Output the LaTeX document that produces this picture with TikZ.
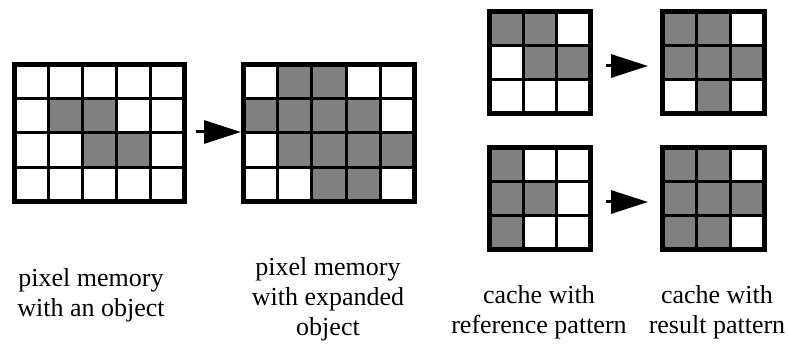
\documentclass[tikz,border=0pt]{standalone}
\usepackage{fontspec}
\setmainfont{Liberation Serif}
\usetikzlibrary{arrows.meta}
\definecolor{cellgray}{RGB}{128,128,128}
\tikzset{
  frame/.style={line width=5pt},
  innerline/.style={line width=3pt},
  gridbox/.style={inner sep=0pt, outer sep=0pt, minimum width=#1},
  arr/.style={line width=3pt, -{Triangle[length=37pt,width=23pt]}},
  lbl/.style={font=\fontsize{26}{30}\selectfont, align=center, inner sep=0pt}
}
% #1 x0, #2 y0, #3 cell w, #4 cell h, #5 cols, #6 rows, #7 gray cells c/r
\newcommand\mygrid[7]{%
  \foreach \c/\r in {#7} \fill[cellgray] (#1+\c*#3, #2+\r*#4) rectangle ++(#3,#4);
  \pgfmathtruncatemacro\lastc{#5-1}
  \pgfmathtruncatemacro\lastr{#6-1}
  \foreach \i in {1,...,\lastc} \draw[innerline] (#1+\i*#3, #2) -- ++(0,#6*#4);
  \foreach \j in {1,...,\lastr} \draw[innerline] (#1, #2+\j*#4) -- ++(#5*#3,0);
  \draw[frame] (#1,#2) rectangle ++(#5*#3,#6*#4);
}
\begin{document}
\begin{tikzpicture}[x=1pt,y=-1pt]
\useasboundingbox (0,0) rectangle (788,344);

% grids
\mygrid{14.5}{64.5}{34}{34.25}{5}{4}{1/1,2/1,2/2,3/2}
\mygrid{243.5}{64.5}{34.2}{34.25}{5}{4}{1/0,2/0,0/1,1/1,2/1,3/1,1/2,2/2,3/2,4/2,2/3,3/3}
\mygrid{489.5}{11.5}{33.7}{34}{3}{3}{0/0,1/0,1/1,2/1}
\mygrid{662.5}{11.5}{34}{34}{3}{3}{0/0,1/0,0/1,1/1,2/1,1/2}
\mygrid{489.5}{147.5}{33.7}{34}{3}{3}{0/0,0/1,1/1,0/2}
\mygrid{662.5}{147.5}{34}{34}{3}{3}{0/0,1/0,0/1,1/1,2/1,0/2,1/2}

% named grid boxes
\node[gridbox=175pt, minimum height=142pt] (g1) at (99.5,133) {};
\node[gridbox=176pt, minimum height=142pt] (g2) at (329,133) {};
\node[gridbox=106pt, minimum height=107pt] (g3) at (540,62.5) {};
\node[gridbox=107pt, minimum height=107pt] (g4) at (713.5,62.5) {};
\node[gridbox=106pt, minimum height=107pt] (g5) at (540,199) {};
\node[gridbox=107pt, minimum height=107pt] (g6) at (713.5,199) {};

% arrows
\draw[arr] ([xshift=9pt,yshift=1pt]g1.east) -- ([yshift=1pt]g2.west);
\draw[arr] ([xshift=13pt,yshift=-3.5pt]g3.east) -- ([xshift=-12pt,yshift=-3.5pt]g4.west);
\draw[arr] ([xshift=13pt,yshift=-3pt]g5.east) -- ([xshift=-12pt,yshift=-3pt]g6.west);

% labels
\node[lbl] (l1) at (91,295) {pixel memory\\with an object};
\node[lbl] (l2) at (328,299) {pixel memory\\with expanded\\object};
\node[lbl] (l3) at (539,312) {cache with\\reference pattern};
\node[lbl] (l4) at (717,312) {cache with\\result pattern};
\end{tikzpicture}
\end{document}
